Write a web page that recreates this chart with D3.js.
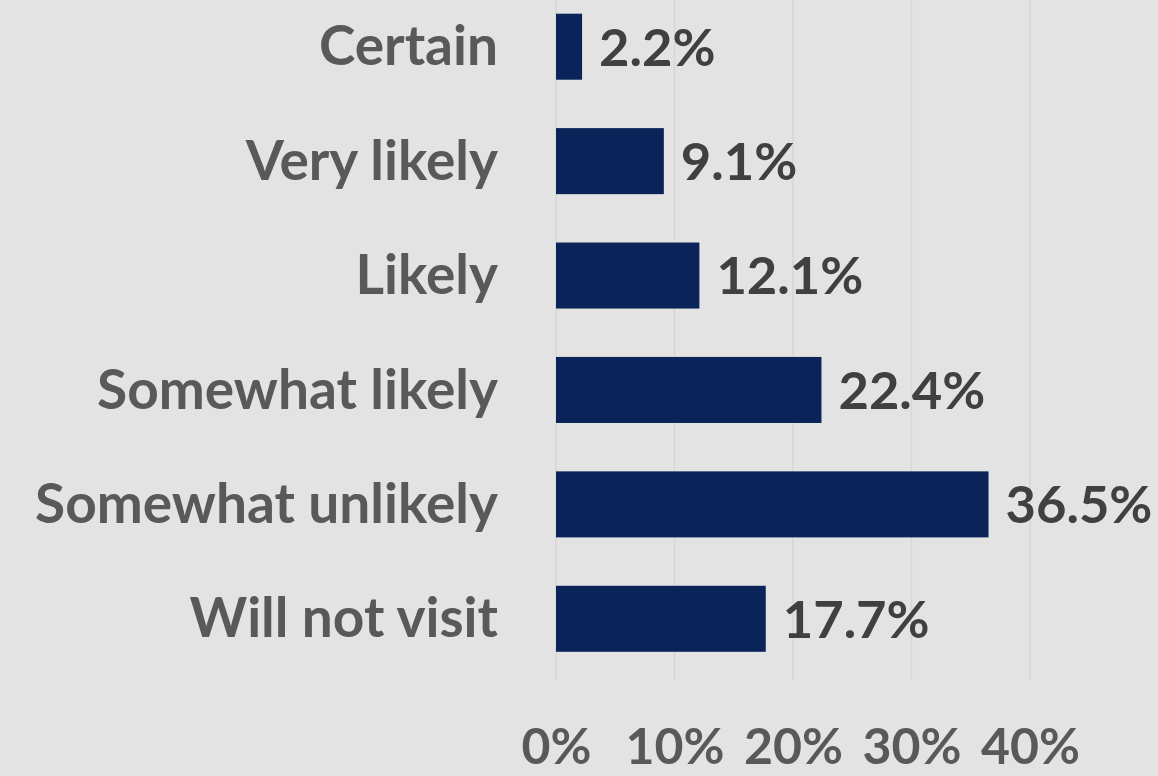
<!DOCTYPE html>
<html>
<head>
<meta charset="utf-8">
<script src="https://cdn.jsdelivr.net/npm/d3@7"></script>
<style>
  html, body { margin: 0; padding: 0; background: #e3e3e3; }
  svg { display: block; }
  text { font-family: Lato, "Open Sans", sans-serif; font-weight: 700; }
</style>
</head>
<body>
<svg id="chart" width="1158" height="776"></svg>
<script>
// Likelihood of visiting, share of respondents (%)
const categories = ["Certain", "Very likely", "Likely", "Somewhat likely", "Somewhat unlikely", "Will not visit"];
const values = [2.2, 9.1, 12.1, 22.4, 36.5, 17.7];
const tickValues = [0, 10, 20, 30, 40];

const W = 1158, H = 776;
const svg = d3.select("#chart");

svg.append("rect").attr("width", W).attr("height", H).attr("fill", "#e3e3e3");

const x = d3.scaleLinear().domain([0, 40]).range([556, 1030]);
const y = d3.scaleBand().domain(categories).range([-10.5, 676]).paddingInner(0.423).paddingOuter(0.2115);

// vertical gridlines
svg.append("g")
  .selectAll("line")
  .data(tickValues)
  .join("line")
  .attr("x1", d => x(d)).attr("x2", d => x(d))
  .attr("y1", 0).attr("y2", 680)
  .attr("stroke", "#d6d6d6")
  .attr("stroke-width", 1.5);

// bars
svg.append("g")
  .selectAll("rect")
  .data(values)
  .join("rect")
  .attr("x", x(0))
  .attr("y", (d, i) => y(categories[i]))
  .attr("width", d => x(d) - x(0))
  .attr("height", y.bandwidth())
  .attr("fill", "#0a2358");

// value labels
svg.append("g")
  .selectAll("text")
  .data(values)
  .join("text")
  .attr("x", d => x(d) + 17)
  .attr("y", (d, i) => y(categories[i]) + y.bandwidth() / 2)
  .attr("dy", "0.36em")
  .attr("font-size", 52.5)
  .attr("fill", "#404040")
  .text(d => d.toFixed(1) + "%");

// category axis (labels only)
const yAxis = svg.append("g")
  .attr("transform", "translate(498,0)")
  .call(d3.axisLeft(y).tickSize(0).tickPadding(0));
yAxis.select(".domain").remove();
yAxis.selectAll("text")
  .attr("font-size", 55)
  .attr("fill", "#595959")
  .attr("dy", "0.34em")
  .style("font-family", "Lato, 'Open Sans', sans-serif")
  .style("font-weight", 700);

// value axis (labels only)
const xAxis = svg.append("g")
  .attr("transform", "translate(0,764)")
  .call(d3.axisBottom(x).tickValues(tickValues).tickFormat(d => d + "%").tickSize(0).tickPadding(0));
xAxis.select(".domain").remove();
xAxis.selectAll("text")
  .attr("y", 0)
  .attr("dy", 0)
  .attr("font-size", 50)
  .attr("fill", "#595959")
  .style("font-family", "Lato, 'Open Sans', sans-serif")
  .style("font-weight", 700);
</script>
</body>
</html>
